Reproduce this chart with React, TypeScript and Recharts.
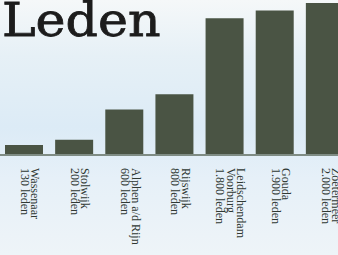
import * as React from "react"
import { Bar, BarChart, XAxis, YAxis } from "recharts"

const places = ["Wassenaar", "Stolwijk", "Alphen a/d Rijn", "Rijswijk", "Leidschendam Voorburg", "Gouda", "Zoetermeer"]
const placeLines = [["Wassenaar"], ["Stolwijk"], ["Alphen a/d Rijn"], ["Rijswijk"], ["Leidschendam", "Voorburg"], ["Gouda"], ["Zoetermeer"]]
const members = [130, 200, 600, 800, 1800, 1900, 2000]

const fmt = (n: number) => String(n).replace(/\B(?=(\d{3})+(?!\d))/g, ".")

const data = places.map((p, i) => ({ place: p, leden: members[i] }))

function LabelTick(props: any) {
  const { x, y, payload } = props
  const i = places.indexOf(payload.value)
  const lines = [...placeLines[i], `${fmt(members[i])} leden`]
  const lh = 10.5
  const first = -((lines.length - 1) / 2) * lh - 2
  return (
    <g transform={`translate(${x},${y})`}>
      <text
        transform="rotate(90)"
        fill="#2f3833"
        fontSize={12}
        fontFamily="'Liberation Serif', serif"
        textAnchor="start"
      >
        {lines.map((l, k) => (
          <tspan key={k} x={5} y={first + k * lh}>{l}</tspan>
        ))}
      </text>
    </g>
  )
}

export default function App() {
  return (
    <div
      style={{
        position: "fixed",
        left: 0,
        top: 0,
        width: 338,
        height: 255,
        overflow: "hidden",
        background: "linear-gradient(180deg, #f5f8f9 0%, #e6f0f6 22%, #dcebf6 50%, #e6f0f8 70%, #eef4f8 100%)"
      }}
    >
      <div
        style={{
          position: "absolute",
          left: 2,
          top: -2,
          fontFamily: "'DejaVu Serif', serif",
          fontSize: 46,
          lineHeight: "45px",
          color: "#1c1c1c",
          WebkitTextStroke: "0.8px #1c1c1c",
          transform: "scaleX(1.1)",
          transformOrigin: "left top"
        }}
      >
        Leden
      </div>
      <div style={{ position: "absolute", left: -2, top: 0 }}>
        <BarChart width={352} height={255} data={data} margin={{ top: 3, right: 0, bottom: 0, left: 1 }}>
          <YAxis hide domain={[0, 2000]} />
          <XAxis
            dataKey="place"
            interval={0}
            height={100}
            tickLine={false}
            axisLine={{ stroke: "#7f8c84", strokeWidth: 2 }}
            tick={<LabelTick />}
          />
          <Bar dataKey="leden" fill="#4a5444" barSize={38} isAnimationActive={false} />
        </BarChart>
      </div>
    </div>
  )
}
